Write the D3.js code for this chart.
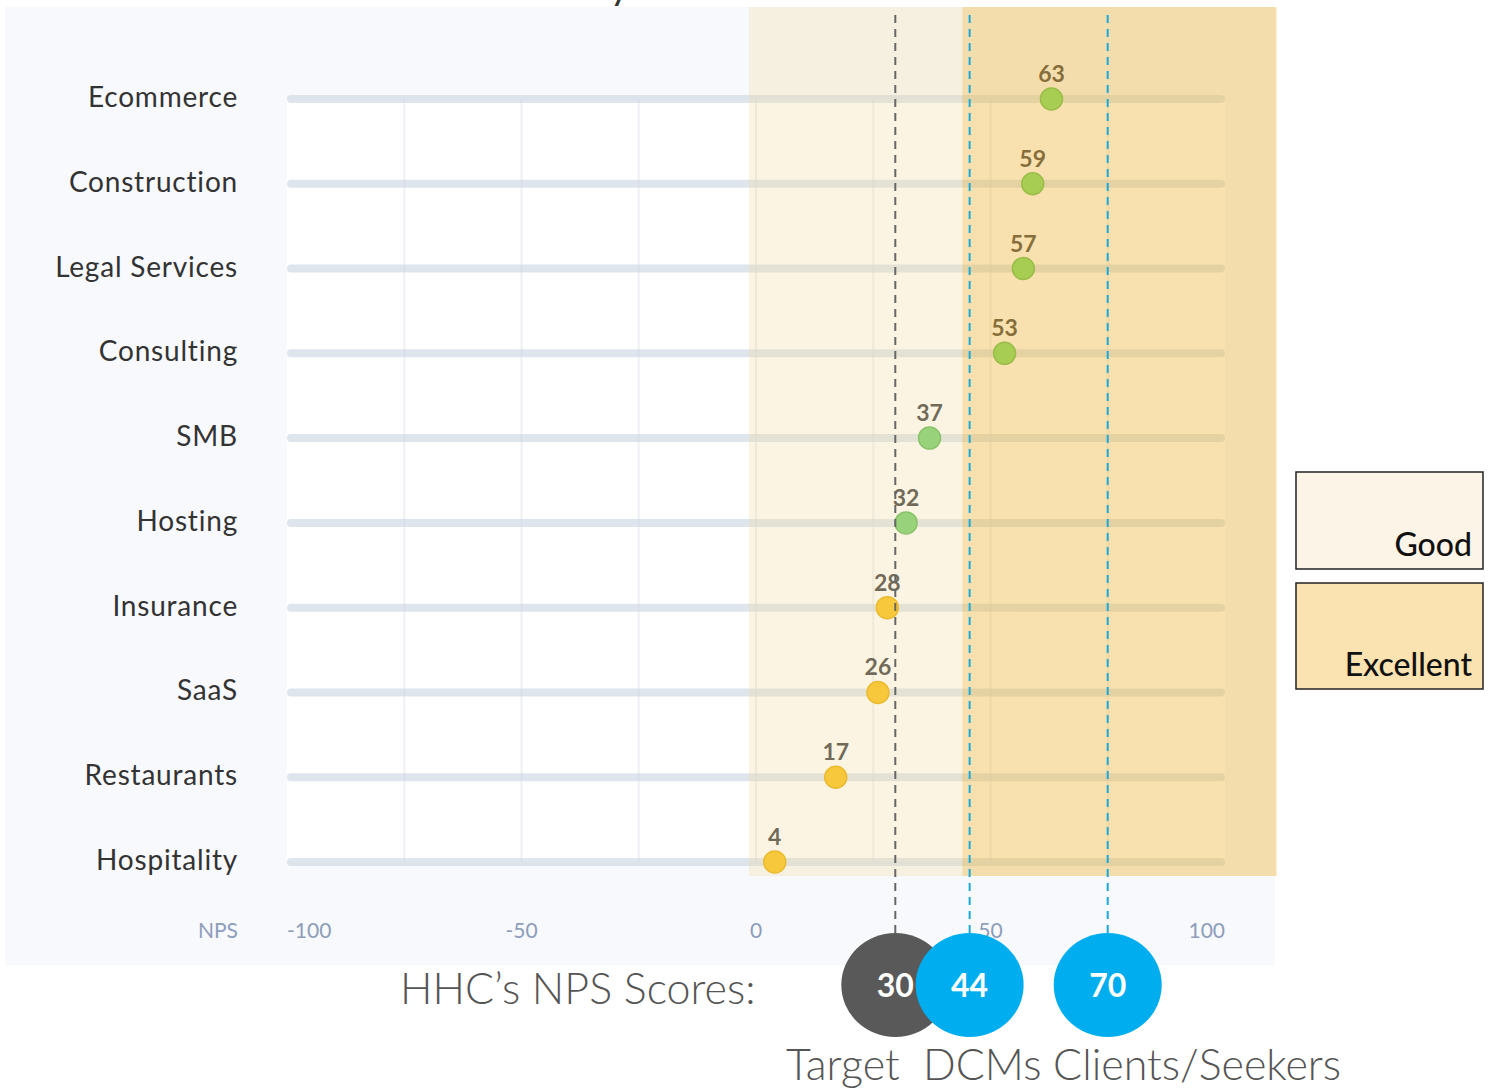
<!DOCTYPE html>
<html>
<head>
<meta charset="utf-8">
<script src="https://d3js.org/d3.v7.min.js"></script>
<style>
  body { margin: 0; background: #fff; }
  text { font-family: Lato, "Noto Sans", sans-serif; }
</style>
</head>
<body>
<div id="chart"></div>
<script>
// data
var categories = ["Ecommerce", "Construction", "Legal Services", "Consulting", "SMB",
                  "Hosting", "Insurance", "SaaS", "Restaurants", "Hospitality"];
var npsValues = [63, 59, 57, 53, 37, 32, 28, 26, 17, 4];
var tickValues = [-100, -50, 0, 50, 100];
var gridValues = [-75, -50, -25, 0, 25, 50, 75];
var zoneNames = ["Good", "Excellent"];
var zoneFrom = [-1.5, 44];
var zoneTo = [44, 111];
var markerNames = ["Target", "DCMs", "Clients/Seekers"];
var markerValues = [30, 44, 70];

var W = 1490, H = 1089;
var svg = d3.select("#chart").append("svg")
  .attr("width", W).attr("height", H);

var x = d3.scaleLinear().domain([-100, 100]).range([287, 1225]);
var y = d3.scalePoint().domain(categories).range([99, 862]);
// the HHC overlay was pasted on with its own spacing
var xm = d3.scaleLinear().domain([0, 100]).range([736, 1267]);

var panelTop = 7, panelBottom = 965;

// title (cut off at top of the screenshot)
svg.append("text")
  .attr("x", 630).attr("y", -1)
  .attr("text-anchor", "end")
  .attr("font-size", 40).attr("fill", "#333")
  .text("NPS Benchmark Survey");

// background panel
svg.append("rect")
  .attr("x", 5).attr("y", panelTop)
  .attr("width", 1270).attr("height", panelBottom - panelTop)
  .attr("fill", "#f7f9fc");

// white plot area
svg.append("rect")
  .attr("x", x(-100)).attr("y", y(categories[0]))
  .attr("width", x(100) - x(-100))
  .attr("height", y(categories[categories.length - 1]) - y(categories[0]))
  .attr("fill", "#fff");

// grid
svg.selectAll(".grid").data(gridValues).enter().append("line")
  .attr("x1", d => x(d)).attr("x2", d => x(d))
  .attr("y1", y(categories[0])).attr("y2", y(categories[categories.length - 1]))
  .attr("stroke", "#eef0f4").attr("stroke-width", 2);

// tracks
svg.selectAll(".track").data(categories).enter().append("rect")
  .attr("x", x(-100)).attr("y", d => y(d) - 4)
  .attr("width", x(100) - x(-100)).attr("height", 8)
  .attr("rx", 4)
  .attr("fill", "#c9d3e0").attr("fill-opacity", 0.6);

// category labels
svg.selectAll(".cat").data(categories).enter().append("text")
  .attr("x", 238).attr("y", d => y(d) + 8)
  .attr("text-anchor", "end")
  .attr("font-size", 28).attr("fill", "#333")
  .attr("letter-spacing", 0.8)
  .text(d => d);

function dotColor(v) {
  if (v < 30) return "#fbc012";
  if (v < 50) return "#72cf6a";
  return "#74dc62";
}
function dotStroke(v) {
  if (v < 30) return "#e8ad00";
  if (v < 50) return "#5db955";
  return "#5fc050";
}

// dots
svg.selectAll(".dot").data(npsValues).enter().append("circle")
  .attr("cx", d => x(d)).attr("cy", (d, i) => y(categories[i]))
  .attr("r", 11)
  .attr("fill", d => dotColor(d))
  .attr("stroke", d => dotStroke(d)).attr("stroke-width", 1.5);

svg.selectAll(".val").data(npsValues).enter().append("text")
  .attr("x", d => x(d)).attr("y", (d, i) => y(categories[i]) - 17)
  .attr("text-anchor", "middle")
  .attr("font-size", 23).attr("font-weight", 700).attr("fill", "#3a3a3a")
  .text(d => d);

// zones (translucent overlays)
var zoneFill = ["#f3d9a0", "#eeb83e"];
var zoneOpacity = [0.3, 0.42];
var zoneBottom = y(categories[categories.length - 1]) + 14;
svg.selectAll(".zone").data(zoneNames).enter().append("rect")
  .attr("x", (d, i) => x(zoneFrom[i])).attr("y", panelTop)
  .attr("width", (d, i) => x(zoneTo[i]) - x(zoneFrom[i]))
  .attr("height", zoneBottom - panelTop)
  .attr("fill", (d, i) => zoneFill[i])
  .attr("fill-opacity", (d, i) => zoneOpacity[i]);

// axis labels
svg.append("text")
  .attr("x", 238).attr("y", 938)
  .attr("text-anchor", "end")
  .attr("font-size", 21).attr("fill", "#8d9dba")
  .text("NPS");
svg.selectAll(".tick").data(tickValues).enter().append("text")
  .attr("x", d => x(d)).attr("y", 938)
  .attr("text-anchor", (d, i) => i == 0 ? "start" : (i == tickValues.length - 1 ? "end" : "middle"))
  .attr("font-size", 21).attr("fill", "#8d9dba")
  .text(d => d);

// marker dashed lines
var markerColor = ["#595959", "#00adee", "#00adee"];
var markerLine = ["#666", "#1aa9dc", "#1aa9dc"];
svg.selectAll(".mline").data(markerValues).enter().append("line")
  .attr("x1", d => xm(d)).attr("x2", d => xm(d))
  .attr("y1", 15).attr("y2", 935)
  .attr("stroke", (d, i) => markerLine[i]).attr("stroke-width", 2)
  .attr("stroke-dasharray", "8,6");

// legend
var legendFill = ["#fcf4e6", "#fae3b0"];
var legendY = [472, 583], legendH = [97, 106];
var lg = svg.selectAll(".legend").data(zoneNames).enter().append("g");
lg.append("rect")
  .attr("x", 1296).attr("y", (d, i) => legendY[i])
  .attr("width", 187).attr("height", (d, i) => legendH[i])
  .attr("fill", (d, i) => legendFill[i])
  .attr("stroke", "#222").attr("stroke-width", 1.5);
lg.append("text")
  .attr("x", 1472).attr("y", (d, i) => legendY[i] + legendH[i] - 13)
  .attr("text-anchor", "end")
  .attr("font-size", 32).attr("font-weight", 500).attr("fill", "#111")
  .text(d => d);

// HHC scores
svg.append("text")
  .attr("x", 400).attr("y", 1004)
  .attr("font-size", 43).attr("font-weight", 300).attr("fill", "#555")
  .text("HHC\u2019s NPS Scores:");

var mg = svg.selectAll(".marker").data(markerValues).enter().append("g");
mg.append("ellipse")
  .attr("cx", d => xm(d)).attr("cy", 985).attr("rx", 54).attr("ry", 52)
  .attr("fill", (d, i) => markerColor[i]);
mg.append("text")
  .attr("x", d => xm(d)).attr("y", 997)
  .attr("text-anchor", "middle")
  .attr("font-size", 32).attr("font-weight", 700).attr("fill", "#fff")
  .text(d => d);

svg.append("text")
  .attr("x", 786).attr("y", 1080)
  .attr("font-size", 43).attr("font-weight", 300).attr("fill", "#555")
  .style("white-space", "pre")
  .text(markerNames[0] + "  " + markerNames[1] + " " + markerNames[2]);
</script>
</body>
</html>
